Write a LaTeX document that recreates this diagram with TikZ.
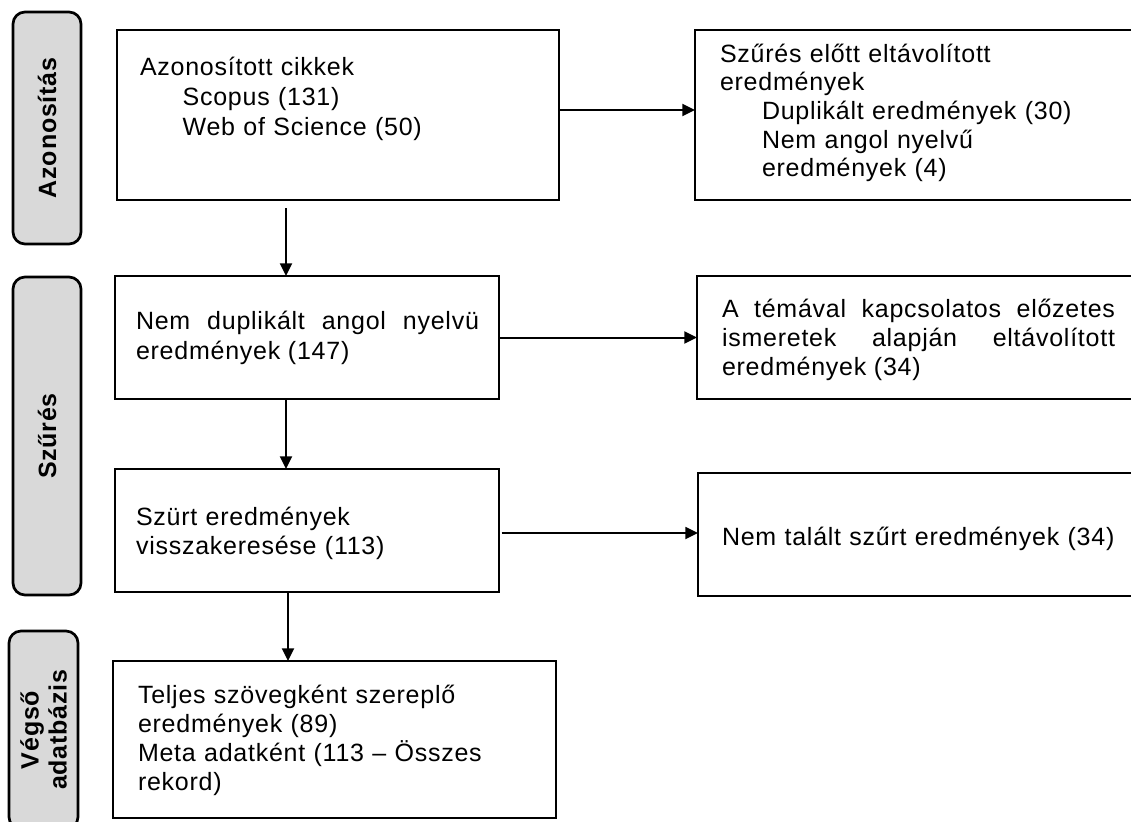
\documentclass[tikz,border=0pt]{standalone}
\usepackage{fontspec}
\setmainfont{Liberation Sans}[LetterSpace=3]
\usetikzlibrary{arrows.meta}

\begin{document}
\begin{tikzpicture}[x=0.75pt, y=-0.75pt,
  every node/.style={inner sep=0pt, outer sep=0pt},
  box/.style={draw=black, line width=1.9pt, anchor=north west},
  side/.style={draw=black, line width=2pt, fill=black!15, rounded corners=9pt,
    rotate=90, minimum height=51pt, font=\fontsize{18.75pt}{21pt}\selectfont\bfseries, align=center},
  txt/.style={anchor=base west, text width=330pt, align=left, font=\fontsize{18.75pt}{22pt}\selectfont},
  arr/.style={line width=1.5pt, -{Triangle[length=9.5pt,width=9pt]}}
]
\useasboundingbox (0,0) rectangle (1131,821);
\clip (0,0) rectangle (1131,821);

% phase labels on the left
\node[side, minimum width=174pt] (ph1) at (47,128) {Azonosítás};
\node[side, minimum width=238.5pt] (ph2) at (47,436) {Szűrés};
\node[side, minimum width=148.5pt, minimum height=51.75pt] (ph3) at (43.5,730) {Végső\\adatbázis};

% main column
\node[box, minimum width=331.5pt, minimum height=127.5pt] (b1) at (117,30) {};
\node[box, minimum width=288pt, minimum height=92.25pt] (b2) at (115,276) {};
\node[box, minimum width=288pt, minimum height=92.25pt] (b3) at (115,469) {};
\node[box, minimum width=332.25pt, minimum height=117.75pt] (b4) at (113,661) {};

% excluded records column
\node[box, minimum width=375pt, minimum height=127.5pt] (r1) at (695,30) {};
\node[box, minimum width=375pt, minimum height=92.25pt] (r2) at (697,276) {};
\node[box, minimum width=375pt, minimum height=92.25pt] (r3) at (698,473) {};

% box texts
\node[txt, font=\fontsize{18.75pt}{22.5pt}\selectfont] (b1t) at (140,75)
  {Azonosított cikkek\\\hspace*{32pt}Scopus (131)\\\hspace*{32pt}Web of Science (50)};
\node[txt, font=\fontsize{18.75pt}{21.5pt}\selectfont] (r1t) at (720,62)
  {Szűrés előtt eltávolított\\eredmények\\\hspace*{31.5pt}Duplikált eredmények (30)\\\hspace*{31.5pt}Nem angol nyelvű\\\hspace*{31.5pt}eredmények (4)};
\node[txt, text width=257.25pt, align=justify, font=\fontsize{18.75pt}{23pt}\selectfont] (b2t) at (136,329)
  {Nem duplikált angol nyelvü\linebreak eredmények (147)};
\node[txt, text width=294.75pt, align=justify, font=\fontsize{18.75pt}{22pt}\selectfont] (r2t) at (722,317)
  {A témával kapcsolatos előzetes\linebreak ismeretek alapján eltávolított\linebreak eredmények (34)};
\node[txt] (b3t) at (136,525) {Szürt eredmények\\visszakeresése (113)};
\node[txt] (r3t) at (722,545) {Nem talált szűrt eredmények (34)};
\node[txt, font=\fontsize{18.75pt}{21.75pt}\selectfont] (b4t) at (138,703)
  {Teljes szövegként szereplő\\eredmények (89)\\Meta adatként (113 -- Összes\\rekord)};

% connectors
\draw[arr, shorten <=6pt] ([xshift=-39pt]b1.south) -- ([xshift=-39pt]b1.south |- b2.north);
\draw[arr] ([xshift=-15.75pt]b2.south) -- ([xshift=-15.75pt]b2.south |- b3.north);
\draw[arr] ([xshift=-14.25pt]b3.south) -- ([xshift=-14.25pt]b3.south |- b4.north);
\draw[arr] ([yshift=3.75pt]b1.east) -- ([yshift=3.75pt]b1.east -| r1.west);
\draw[arr] (b2.east) -- (b2.east -| r2.west);
\draw[arr, shorten <=2pt] ([yshift=-1.9pt]b3.east) -- ([yshift=-1.9pt]b3.east -| r3.west);
\end{tikzpicture}
\end{document}
